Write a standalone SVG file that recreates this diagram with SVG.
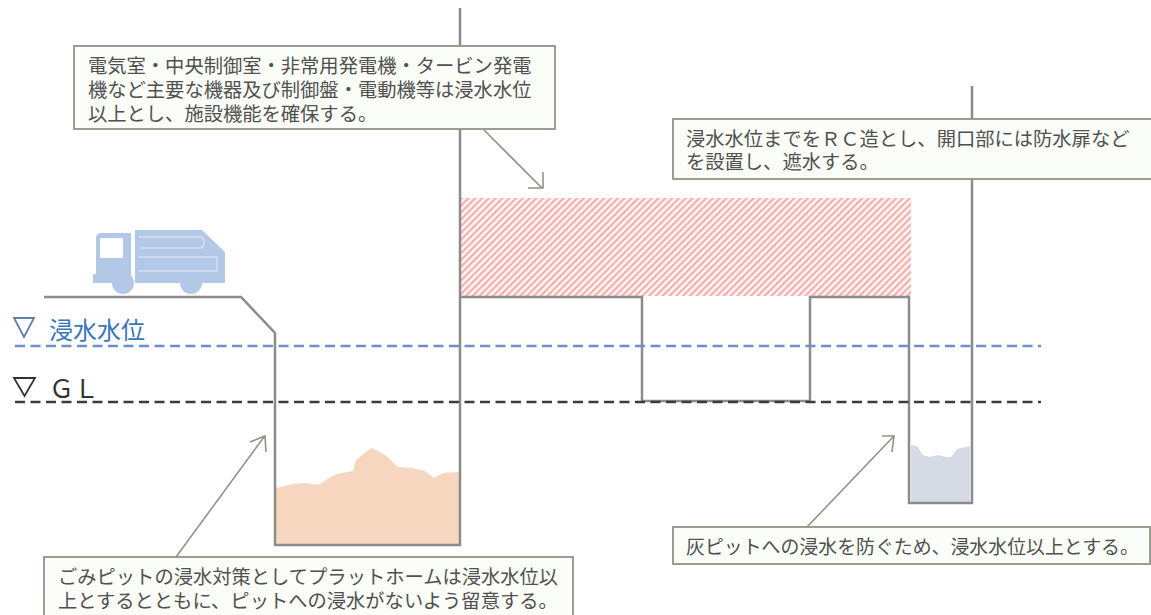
<svg xmlns="http://www.w3.org/2000/svg" width="1151" height="615" viewBox="0 0 1151 615">
<style>
.w{fill:none;stroke:#8c8c8c;stroke-width:2.5}
.box{fill:#fbfdf8;stroke:#8f9585;stroke-width:1.8}
.lead{fill:none;stroke:#8f9585;stroke-width:1.6}
text{font-family:"Noto Sans CJK JP","Noto Sans",sans-serif;fill:#505050}
</style>
<defs>
<pattern id="h" width="4.8" height="4.8" patternUnits="userSpaceOnUse" patternTransform="rotate(-45)">
<rect width="4.8" height="4.8" fill="#fdf3f1"/><rect width="4.8" height="2.1" fill="#f3aeae"/>
</pattern>
</defs>
<rect width="1151" height="615" fill="#fff"/>
<g id="hatch"><rect x="461" y="198" width="450" height="98" fill="url(#h)"/></g>
<g id="pit-waste"><path fill="#f7d6c0" d="M276 488L293 484L305 483L318 485L329 478L337 474L353 471L356 460L366 452L372 448L385 455L398 467L412 468L425 471L434 478L443 473L459 472V544H276Z"/></g>
<g id="pit-ash"><path fill="#d5dae5" d="M911 445L917 446L923 455L930 457L938 455L946 457L951 457L957 449L970 446V502H911Z"/></g>
<g id="truck" fill="#b3c7e6">
<path d="M96 238Q96 233 102 233H131V283H93V274H96Z"/>
<rect x="100" y="238" width="23" height="20" rx="1" fill="#fff"/>
<path d="M135 230H202L225 252V283H135Z"/>
<circle cx="123" cy="283" r="11"/><circle cx="191" cy="283" r="11"/>
<path d="M139 237H200Q204 237 204 242.500Q204 248 200 248H139M139 257H217V271H139" fill="none" stroke="#d6e1f2" stroke-width="1.400"/>
</g>
<g id="connectors">
<path class="w" d="M44 297H241L275 333V545H460V8"/>
<path class="w" d="M460 297H642V401H810V297H909V503H972V86"/>
<path d="M15 346H1041" fill="none" stroke="#6f8fc9" stroke-width="2.500" stroke-dasharray="10 5.500"/>
<path d="M15 402H1041" fill="none" stroke="#3c3c3c" stroke-width="2.500" stroke-dasharray="10 5.500"/>
<path class="lead" d="M484 130L542 188M528 188H543V172"/>
<path class="lead" d="M176 557L264 437M250 442L265 436L266 452"/>
<path class="lead" d="M807 527L893 437M882 436H894L892 452"/>
</g>
<g id="label-water"><path d="M14 318H34L24 337Z" fill="none" stroke="#5f7fae" stroke-width="1.800"/><text x="49" y="339" font-size="24" style="fill:#3a75bb">浸水水位</text></g>
<g id="label-gl"><path d="M14 378H35L24.500 396Z" fill="none" stroke="#333" stroke-width="1.800"/><text x="49" y="398" font-size="25" style="fill:#333">ＧＬ</text></g>
<g id="note-top"><rect class="box" x="74" y="46" width="481" height="83"/>
<text x="88" y="73" font-size="19.300">電気室・中央制御室・非常用発電機・タービン発電</text>
<text x="88" y="97" font-size="19.300">機など主要な機器及び制御盤・電動機等は浸水水位</text>
<text x="88" y="121" font-size="19.300">以上とし、施設機能を確保する。</text></g>
<g id="note-right"><rect class="box" x="673" y="119" width="480" height="60"/>
<text x="686" y="146" font-size="19.300">浸水水位までをＲＣ造とし、開口部には防水扉など</text>
<text x="686" y="169" font-size="19.300">を設置し、遮水する。</text></g>
<g id="note-ash"><rect class="box" x="673" y="527" width="477" height="37"/>
<text x="686" y="554" font-size="18.900">灰ピットへの浸水を防ぐため、浸水水位以上とする。</text></g>
<g id="note-pit"><rect class="box" x="44" y="557" width="529" height="70"/>
<text x="58" y="584" font-size="19.300">ごみピットの浸水対策としてプラットホームは浸水水位以</text>
<text x="58" y="608" font-size="19.300">上とするとともに、ピットへの浸水がないよう留意する。</text></g>
</svg>
